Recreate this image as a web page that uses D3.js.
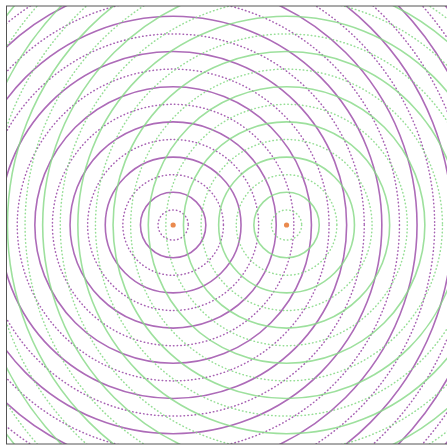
<!DOCTYPE html>
<html>
<head>
<meta charset="utf-8">
<script src="https://cdn.jsdelivr.net/npm/d3@7"></script>
<style>
  html, body { margin: 0; padding: 0; background: #fff; }
  svg { display: block; }
</style>
</head>
<body>
<svg id="chart"></svg>
<script>
// two point sources, positions in half-wavelength units
const sourceNames = ['A', 'B'];
const sourceX = [-3.25, 3.25];
const sourceY = [0, 0];
const sourceColor = ['#9846a6', '#84d884'];

// ring index in half wavelengths: odd = trough (dotted), even = crest (solid)
const rings = [1, 2, 3, 4, 5, 6, 7, 8, 9, 10, 11, 12, 13, 14, 15, 16, 17, 18, 19, 20, 21, 22];

// visible window in the same units
const xDomain = [-12.8, 12.8];
const yDomain = [-12.55, 12.55];

const width = 447, height = 446;
const svg = d3.select('#chart').attr('width', width).attr('height', height);

const x = d3.scaleLinear().domain(xDomain).range([6.5, 453.2]);
const y = d3.scaleLinear().domain(yDomain).range([444, 6]);
// ring radius in px, sits a little inside n * lambda/2
const r = d3.scaleLinear().domain([1, 21]).range([15.1, 367.1]);

svg.append('defs').append('clipPath').attr('id', 'frame-clip')
  .append('rect')
  .attr('x', x(xDomain[0])).attr('y', y(yDomain[1]))
  .attr('width', x(xDomain[1]) - x(xDomain[0]))
  .attr('height', y(yDomain[0]) - y(yDomain[1]));

const plot = svg.append('g').attr('clip-path', 'url(#frame-clip)');

const sources = sourceNames.map((name, i) => ({ name, x: sourceX[i], y: sourceY[i], color: sourceColor[i] }));

const src = plot.selectAll('.source')
  .data(sources)
  .join('g')
  .attr('class', 'source');

src.selectAll('circle')
  .data(d => rings.map(n => ({ n, s: d })))
  .join('circle')
  .attr('cx', d => x(d.s.x))
  .attr('cy', d => y(d.s.y))
  .attr('r', d => r(d.n))
  .attr('fill', 'none')
  .attr('stroke', d => d.s.color)
  .attr('stroke-opacity', d => d.n % 2 ? 0.85 : 0.8)
  .attr('stroke-width', d => d.n % 2 ? 1.5 : 1.6)
  .attr('stroke-linecap', d => d.n % 2 ? 'round' : 'butt')
  .attr('stroke-dasharray', d => d.n % 2 ? '0.5,3.2' : null);

plot.selectAll('.src-dot')
  .data(sources)
  .join('circle')
  .attr('class', 'src-dot')
  .attr('cx', d => x(d.x))
  .attr('cy', d => y(d.y))
  .attr('r', 2.6)
  .attr('fill', '#ea8a4e');

// frame
svg.append('rect')
  .attr('x', x(xDomain[0])).attr('y', y(yDomain[1]))
  .attr('width', x(xDomain[1]) - x(xDomain[0]))
  .attr('height', y(yDomain[0]) - y(yDomain[1]))
  .attr('fill', 'none')
  .attr('stroke', '#555')
  .attr('stroke-width', 1);
</script>
</body>
</html>
